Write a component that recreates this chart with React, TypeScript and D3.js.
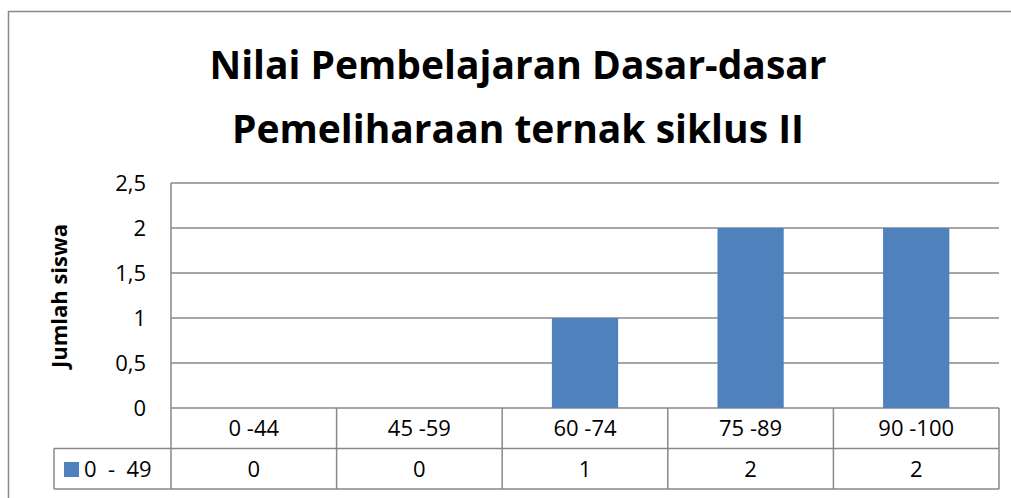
import React from 'react';
import * as d3 from 'd3';

const title = ['Nilai Pembelajaran Dasar-dasar', 'Pemeliharaan ternak siklus II'];
const categories = ['0 -44', '45 -59', '60 -74', '75 -89', '90 -100'];
const seriesName = '0  -  49';
const values = [0, 0, 1, 2, 2];
const yTicks = [0, 0.5, 1, 1.5, 2, 2.5];
const yLabel = 'Jumlah siswa';

const font = "'Open Sans', 'Noto Sans', sans-serif";

export default function App() {
  const width = 1011;
  const height = 498;
  // plot area
  const left = 171, right = 999, top = 183, zero = 408;
  const rowH = 40.5;

  const x = d3.scaleBand<string>().domain(categories).range([left, right]).padding(0);
  const y = d3.scaleLinear().domain([0, 2.5]).range([zero, top]);
  const fmt = (v: number) => String(v).replace('.', ',');
  const bw = x.bandwidth() * 0.4;
  const grey = '#898989';

  return (
    <svg width={width} height={height} style={{ position: 'absolute', left: 0, top: 0 }}>
      <rect x={0} y={0} width={width} height={height} fill="#fff" />
      {/* outer frame */}
      <rect x={8.5} y={11.5} width={1020} height={500} fill="none" stroke={grey} strokeWidth={1.5} />

      {/* title */}
      <g fontFamily={font} fontWeight="bold" fontSize={39} textAnchor="middle" fill="#000">
        <text x={518} y={79}>{title[0]}</text>
        <text x={518} y={143}>{title[1]}</text>
      </g>

      {/* grid */}
      {yTicks.map(t => (
        <line key={t} x1={left} x2={right} y1={y(t)} y2={y(t)} stroke={grey} strokeWidth={1.5} />
      ))}
      {yTicks.map(t => (
        <text key={'l' + t} x={146} y={y(t)} dy="0.36em" textAnchor="end" fontFamily={font} fontSize={22}>{fmt(t)}</text>
      ))}
      <text transform={`translate(67,${296}) rotate(-90)`} textAnchor="middle" fontFamily={font} fontWeight="bold" fontSize={22}>{yLabel}</text>

      {/* bars */}
      {values.map((v, i) => v > 0 && (
        <rect key={i} x={x(categories[i])! + (x.bandwidth() - bw) / 2} y={y(v)} width={bw} height={zero - y(v)} fill="#4f81bd" />
      ))}

      {/* axis line */}
      <line x1={left} x2={left} y1={top} y2={zero + 2 * rowH} stroke={grey} strokeWidth={1.5} />

      {/* data table */}
      <g stroke={grey} strokeWidth={1.5} fill="none">
        <line x1={left} x2={right} y1={zero + rowH} y2={zero + rowH} />
        <line x1={54} x2={right} y1={zero + 2 * rowH} y2={zero + 2 * rowH} />
        <line x1={54} x2={left} y1={zero + rowH} y2={zero + rowH} />
        <line x1={54} x2={54} y1={zero + rowH} y2={zero + 2 * rowH} />
        {categories.map(c => (
          <line key={c} x1={x(c)! + x.bandwidth()} x2={x(c)! + x.bandwidth()} y1={zero} y2={zero + 2 * rowH} />
        ))}
      </g>
      <g fontFamily={font} fontSize={22} textAnchor="middle">
        {categories.map(c => (
          <text key={c} x={x(c)! + x.bandwidth() / 2} y={zero + rowH / 2} dy="0.36em">{c}</text>
        ))}
        {values.map((v, i) => (
          <text key={i} x={x(categories[i])! + x.bandwidth() / 2} y={zero + rowH * 1.5} dy="0.36em">{v}</text>
        ))}
      </g>
      <rect x={64} y={462} width={15} height={15} fill="#4f81bd" />
      <text x={84} y={zero + rowH * 1.5} dy="0.36em" fontFamily={font} fontSize={22} style={{ whiteSpace: 'pre' }}>{seriesName}</text>
    </svg>
  );
}
